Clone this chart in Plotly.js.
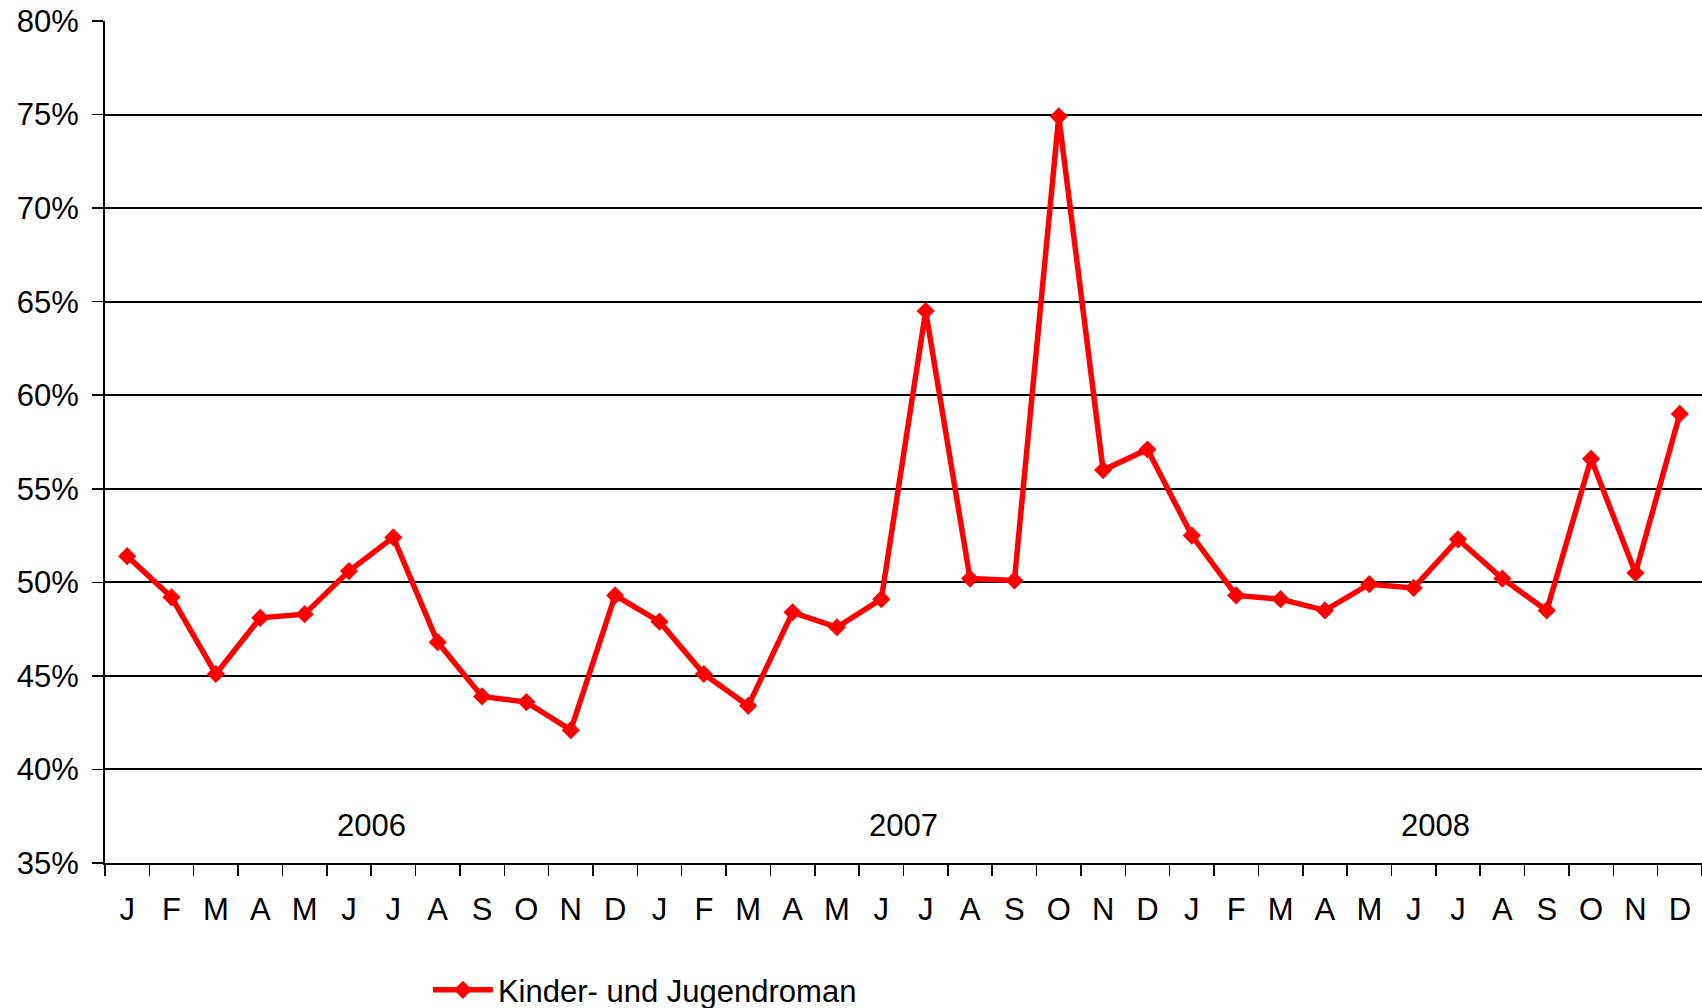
<!DOCTYPE html>
<html>
<head>
<meta charset="utf-8">
<script src="https://cdn.plot.ly/plotly-3.0.1.min.js"></script>
<style>
html,body{margin:0;padding:0;background:#fff;}
#chart{width:1702px;height:1008px;}
</style>
</head>
<body>
<div id="chart"></div>
<script>
const years = ['2006', '2007', '2008'];
const monthLabels = ['J','F','M','A','M','J','J','A','S','O','N','D'];
const seriesName = 'Kinder- und Jugendroman';
const values2006 = [51.4, 49.2, 45.1, 48.1, 48.3, 50.6, 52.4, 46.8, 43.9, 43.6, 42.1, 49.3];
const values2007 = [47.9, 45.1, 43.4, 48.4, 47.6, 49.1, 64.5, 50.2, 50.1, 74.9, 56.0, 57.1];
const values2008 = [52.5, 49.3, 49.1, 48.5, 49.9, 49.7, 52.3, 50.2, 48.5, 56.6, 50.5, 59.0];
const yTicks = [35, 40, 45, 50, 55, 60, 65, 70, 75, 80];

const values = values2006.concat(values2007, values2008);
const xIdx = values.map((v, i) => i);
const tickText = years.flatMap(() => monthLabels);

const font = {family: '"Liberation Sans", Arial, sans-serif', size: 31, color: '#000'};

const trace = {
  x: xIdx,
  y: values,
  type: 'scatter',
  mode: 'lines+markers',
  name: seriesName,
  line: {color: '#FF0000', width: 5.5},
  marker: {symbol: 'diamond', size: 14, color: '#FF0000'},
  hoverinfo: 'none'
};

const annotations = years.map((yr, k) => ({
  x: k * 12 + 5.5,
  y: 37.0,
  xref: 'x', yref: 'y',
  text: yr,
  showarrow: false,
  font: font,
  xanchor: 'center', yanchor: 'middle'
}));

const layout = {
  width: 1702, height: 1008,
  margin: {l: 105, r: 0, t: 21, b: 145, autoexpand: false},
  paper_bgcolor: '#fff', plot_bgcolor: '#fff',
  font: font,
  showlegend: true,
  legend: {
    orientation: 'h',
    x: 0.2022, xanchor: 'left',
    y: -0.151, yanchor: 'middle',
    font: font,
    itemwidth: 60,
    bgcolor: 'rgba(0,0,0,0)'
  },
  xaxis: {
    range: [-0.5, values.length - 0.5],
    tickmode: 'array',
    tickvals: xIdx,
    ticktext: tickText,
    ticks: '',
    ticklabelstandoff: 18,
    showgrid: false,
    zeroline: false,
    showline: true, linecolor: '#000', linewidth: 2,
    minor: {tick0: -0.5, dtick: 1, ticks: 'outside', ticklen: 11, tickwidth: 1.5, tickcolor: '#000', showgrid: false},
    tickfont: font,
    fixedrange: true
  },
  yaxis: {
    range: [35, 80],
    tickmode: 'array',
    tickvals: yTicks,
    ticktext: yTicks.map(v => v + '%'),
    ticks: 'outside', ticklen: 11, tickwidth: 1.5, tickcolor: '#000',
    ticklabelstandoff: 7,
    showgrid: true, gridcolor: '#000', gridwidth: 2,
    zeroline: false,
    showline: true, linecolor: '#000', linewidth: 2,
    tickfont: font,
    fixedrange: true
  },
  annotations: annotations
};

Plotly.newPlot('chart', [trace], layout, {staticPlot: true, displayModeBar: false});
</script>
</body>
</html>
